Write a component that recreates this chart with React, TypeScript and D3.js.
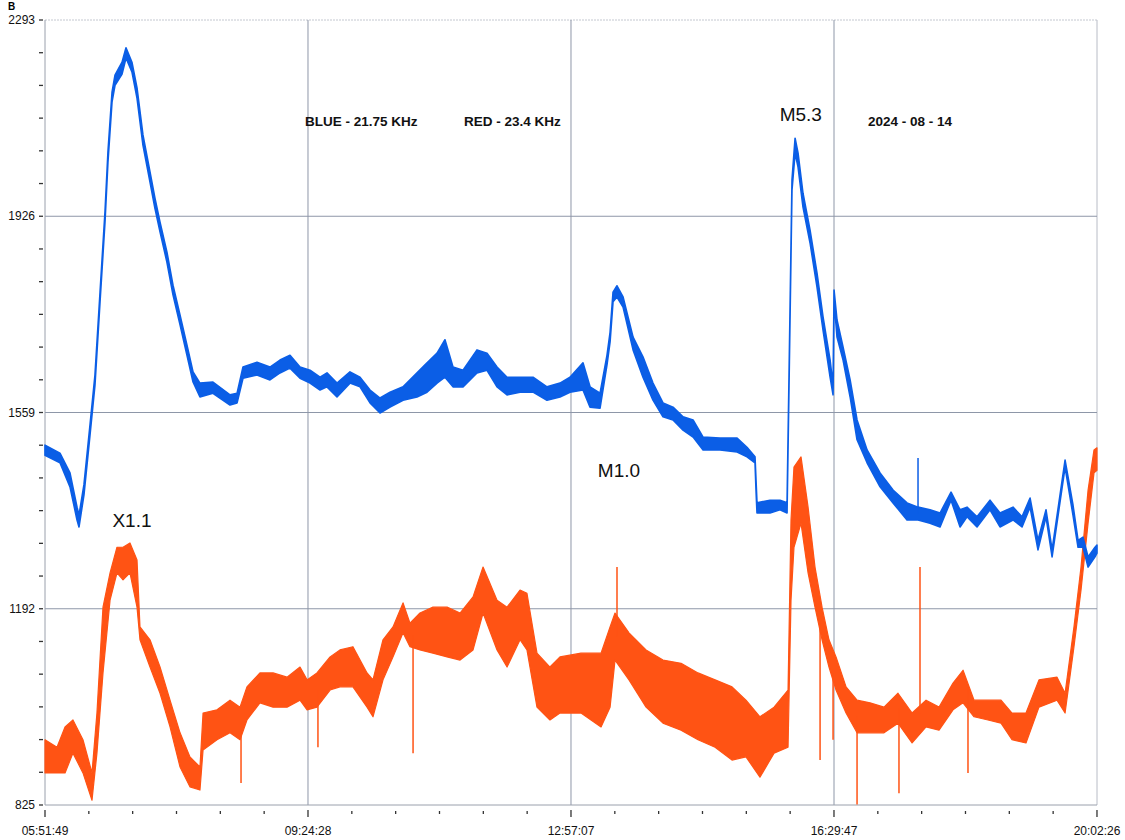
import React from "react";
import * as d3 from "d3";

// time axis: minutes after 05:51:49
const xTickLabels = ["05:51:49", "09:24:28", "12:57:07", "16:29:47", "20:02:26"];
const yTickLabels = [825, 1192, 1559, 1926, 2293];

// blue (21.75 kHz): [minute, high, low]
const blue: [number, number, number][] = [
  [0, 1498, 1479], [12.1, 1483, 1465], [20.2, 1446, 1420], [25.9, 1382, 1358],
  [27.5, 1367, 1345], [31.5, 1424, 1405], [36.4, 1536, 1517], [40.4, 1629, 1610],
  [44.5, 1784, 1766], [48.5, 1934, 1915], [50.9, 2046, 2027], [54.2, 2158, 2140],
  [56.6, 2190, 2171], [62.3, 2214, 2192], [65.5, 2241, 2222], [70.3, 2214, 2196],
  [74.4, 2166, 2147], [79.2, 2078, 2059], [84.9, 2009, 1990], [88.9, 1960, 1941],
  [93.0, 1915, 1897], [98.6, 1859, 1840], [103.5, 1797, 1779], [109.2, 1741, 1723],
  [114.8, 1685, 1666], [119.7, 1635, 1616], [125.3, 1614, 1588], [135.8, 1616, 1595],
  [149.6, 1592, 1573], [155.3, 1595, 1577], [160.1, 1644, 1623], [171.4, 1653, 1629],
  [181.9, 1644, 1620], [190.0, 1657, 1633], [198.1, 1666, 1642], [206.2, 1644, 1623],
  [214.3, 1638, 1614], [222.4, 1625, 1601], [228.0, 1633, 1607], [236.1, 1614, 1588],
  [246.6, 1635, 1614], [254.7, 1625, 1607], [262.8, 1601, 1577], [270.9, 1586, 1558],
  [279.0, 1597, 1569], [289.5, 1607, 1582], [300.8, 1633, 1588], [308.9, 1652, 1597],
  [317.0, 1670, 1614], [323.4, 1695, 1625], [329.9, 1644, 1607], [338.0, 1638, 1607],
  [349.3, 1676, 1633], [357.4, 1670, 1638], [365.5, 1644, 1607], [373.6, 1625, 1592],
  [384.1, 1625, 1597], [394.6, 1625, 1597], [405.9, 1607, 1582], [416.4, 1614, 1588],
  [424.5, 1625, 1597], [435.0, 1652, 1601], [440.7, 1607, 1569], [448.8, 1595, 1567],
  [454.4, 1666, 1648], [456.9, 1709, 1691], [459.3, 1784, 1766], [462.5, 1796, 1775],
  [467.4, 1775, 1756], [475.5, 1700, 1676], [483.5, 1663, 1625], [491.6, 1614, 1582],
  [499.7, 1577, 1551], [507.8, 1569, 1545], [515.9, 1551, 1526], [524.0, 1545, 1513],
  [532.1, 1513, 1489], [545.8, 1511, 1489], [559.6, 1511, 1485], [567.6, 1494, 1476],
  [574.1, 1476, 1465], [574.9, 1433, 1414], [575.7, 1390, 1371], [586.2, 1395, 1371],
  [594.3, 1395, 1377], [600.0, 1390, 1371], [601.6, 1629, 1610], [603.2, 1872, 1853],
  [604.0, 1994, 1975], [606.5, 2072, 2044], [608.9, 2044, 2018], [612.9, 1969, 1943],
  [618.6, 1900, 1876], [624.2, 1820, 1794], [629.1, 1738, 1713], [634.8, 1657, 1625],
  [637.2, 1610, 1592], [638.0, 1788, 1769], [640.4, 1732, 1700], [645.3, 1681, 1657],
  [651.0, 1620, 1588], [656.6, 1545, 1508], [664.7, 1489, 1465], [675.2, 1446, 1420],
  [685.7, 1414, 1390], [697.0, 1390, 1358], [705.9, 1382, 1358], [715.6, 1377, 1352],
  [723.7, 1371, 1345], [732.6, 1410, 1395], [739.9, 1377, 1345], [745.5, 1382, 1364],
  [753.6, 1364, 1345], [764.1, 1395, 1377], [772.2, 1371, 1345], [782.7, 1382, 1358],
  [790.0, 1364, 1345], [796.5, 1399, 1382], [802.9, 1320, 1302], [809.4, 1377, 1364],
  [814.3, 1302, 1289], [824.8, 1470, 1457], [831.2, 1386, 1367], [835.3, 1320, 1307],
  [839.3, 1326, 1307], [843.4, 1289, 1270], [849.0, 1307, 1289], [850.6, 1311, 1296],
];
const blueSpikes: [number, number][] = [[705.9, 1474]];

// red (23.4 kHz): [minute, high, low]
const red: [number, number, number][] = [
  [0, 947, 885], [9.7, 933, 885], [16.2, 971, 885], [22.6, 984, 922], [30.7, 947, 885],
  [38.0, 885, 834], [42.0, 997, 922], [46.9, 1195, 1072], [52.6, 1259, 1208],
  [58.2, 1307, 1259], [63.1, 1307, 1246], [68.7, 1315, 1259], [74.4, 1283, 1195],
  [76.8, 1158, 1134], [84.9, 1134, 1083], [93.0, 1083, 1034], [101.1, 1021, 971],
  [109.2, 960, 896], [117.2, 915, 859], [125.3, 896, 853], [127.8, 997, 928],
  [139.1, 1003, 947], [149.6, 1021, 960], [157.7, 1008, 947], [163.3, 1046, 984],
  [173.8, 1072, 1016], [184.4, 1072, 1008], [195.7, 1064, 1008], [206.2, 1083, 1021],
  [211.9, 1059, 1003], [219.9, 1072, 1008], [230.5, 1102, 1040], [238.5, 1115, 1046],
  [249.0, 1121, 1046], [260.4, 1072, 1008], [265.2, 1059, 990], [273.3, 1134, 1059],
  [281.4, 1158, 1102], [289.5, 1203, 1147], [295.1, 1165, 1121], [303.2, 1184, 1115],
  [313.7, 1195, 1109], [325.1, 1195, 1102], [335.6, 1184, 1096], [346.1, 1214, 1115],
  [354.2, 1270, 1184], [365.5, 1208, 1115], [373.6, 1195, 1083], [384.1, 1227, 1134],
  [389.7, 1221, 1115], [397.8, 1109, 1008], [408.3, 1083, 984], [416.4, 1102, 997],
  [433.4, 1109, 997], [449.6, 1109, 971], [456.9, 1158, 1008], [460.9, 1184, 1096],
  [472.2, 1147, 1059], [486.0, 1115, 1008], [499.7, 1096, 978], [514.3, 1090, 965],
  [528.0, 1072, 947], [541.8, 1059, 933], [555.5, 1046, 909], [566.8, 1021, 915],
  [578.1, 990, 877], [589.5, 1008, 922], [600.8, 1040, 933], [603.2, 1358, 1208],
  [605.6, 1457, 1307], [611.3, 1476, 1352], [617.0, 1382, 1259], [622.6, 1270, 1195],
  [628.3, 1195, 1134], [633.9, 1134, 1083], [639.6, 1102, 1040], [647.7, 1046, 997],
  [656.6, 1021, 960], [667.1, 1016, 960], [678.4, 1008, 960], [689.7, 1034, 978],
  [701.1, 997, 941], [712.4, 1021, 971], [722.9, 1008, 965], [734.2, 1053, 1003],
  [742.3, 1077, 1016], [751.2, 1021, 990], [762.5, 1021, 984], [773.0, 1021, 978],
  [781.9, 997, 947], [793.2, 997, 941], [803.7, 1059, 1008], [818.3, 1064, 1021],
  [824.8, 1034, 997], [832.0, 1158, 1121], [837.7, 1270, 1227], [843.4, 1414, 1352],
  [848.2, 1489, 1446], [850.6, 1493, 1451],
];
const redSpikes: [number, number][] = [
  [158.5, 866], [220.7, 933], [297.6, 922], [462.5, 1270], [626.7, 909],
  [637.2, 947], [656.6, 826], [690.5, 847], [707.5, 1270], [746.3, 885],
];

const notes = [
  { text: "X1.1", m: 54.5, v: 1345 },
  { text: "M1.0", m: 447, v: 1438 },
  { text: "M5.3", m: 594, v: 2104 },
];

const toMin = (s: string) => {
  const [h, mi, se] = s.split(":").map(Number);
  return h * 60 + mi + se / 60;
};

const W = 1125, H = 840;
const left = 45, right = 1097, top = 20, bottom = 805;
const BLUE = "#0b5ee6";
const RED = "#ff5314";
const GRID = "#8e97a8";
const font = "'Liberation Sans', Arial, sans-serif";

export default function App() {
  const t0 = toMin(xTickLabels[0]);
  const xMajors = xTickLabels.map(s => toMin(s) - t0);
  const x = d3.scaleLinear().domain([0, xMajors[xMajors.length - 1]]).range([left, right]);
  const y = d3.scaleLinear().domain([yTickLabels[0], yTickLabels[yTickLabels.length - 1]]).range([bottom, top]);

  const area = d3.area<[number, number, number]>()
    .x(d => x(d[0]))
    .y0(d => y(d[2]))
    .y1(d => y(d[1]));

  const xStep = (xMajors[1] - xMajors[0]) / 6;
  const xMinor = d3.range(0, xMajors[xMajors.length - 1] + 0.01, xStep);
  const yStep = (yTickLabels[1] - yTickLabels[0]) / 6;
  const yMinor = d3.range(yTickLabels[0], yTickLabels[yTickLabels.length - 1] + 0.01, yStep);

  const bis = d3.bisector((d: [number, number, number]) => d[0]).center;
  const spikeBase = (series: [number, number, number][], m: number) => {
    const p = series[bis(series, m)];
    return (p[1] + p[2]) / 2;
  };

  return (
    <svg width={W} height={H} style={{ display: "block", position: "absolute", left: 0, top: 0, background: "#fff" }}>
      <rect width={W} height={H} fill="#fff" />
      <text x={8} y={10} fontFamily={font} fontWeight="bold" fontSize={10}>B</text>

      {/* frame + grid */}
      <line x1={left} x2={right} y1={top} y2={top} stroke="#c4c8d0" strokeWidth={1} strokeDasharray="2 1" />
      <line x1={right} x2={right} y1={top} y2={bottom} stroke="#b8bcc6" strokeWidth={1} />
      {yTickLabels.slice(1, -1).map(v => (
        <line key={v} x1={left} x2={right} y1={y(v)} y2={y(v)} stroke={GRID} strokeWidth={1} />
      ))}
      {xMajors.slice(1, -1).map(m => (
        <line key={m} x1={x(m)} x2={x(m)} y1={top} y2={bottom} stroke={GRID} strokeWidth={1} />
      ))}
      <line x1={left} x2={left} y1={top} y2={bottom} stroke="#9aa0ac" strokeWidth={1} />
      <line x1={left} x2={right} y1={bottom} y2={bottom} stroke="#9aa0ac" strokeWidth={1} />

      {/* y ticks */}
      {yMinor.map((v, i) => (
        <line key={i} x1={39} x2={43} y1={y(v)} y2={y(v)} stroke="#333" strokeWidth={1.3} />
      ))}
      {yTickLabels.map(v => (
        <text key={v} x={35} y={y(v)} dy="0.35em" textAnchor="end" fontFamily={font} fontSize={12} fill="#111">{v}</text>
      ))}

      {/* x ticks */}
      {xMinor.map((m, i) => {
        const major = i % 6 === 0;
        return (
          <line key={i} x1={x(m)} x2={x(m)} y1={major ? 810 : 811} y2={major ? 817 : 814} stroke="#333" strokeWidth={1.3} />
        );
      })}
      {xTickLabels.map((s, i) => (
        <text key={s} x={x(xMajors[i])} y={835} textAnchor="middle" fontFamily={font} fontSize={12} fill="#111">{s}</text>
      ))}

      {/* series */}
      <path d={area(red) ?? ""} fill={RED} stroke={RED} strokeWidth={1.2} strokeLinejoin="round" />
      {redSpikes.map(([m, v], i) => (
        <line key={i} x1={x(m)} x2={x(m)} y1={y(spikeBase(red, m))} y2={y(v)} stroke={RED} strokeWidth={1.5} />
      ))}
      <path d={area(blue) ?? ""} fill={BLUE} stroke={BLUE} strokeWidth={1.6} strokeLinejoin="round" />
      {blueSpikes.map(([m, v], i) => (
        <line key={i} x1={x(m)} x2={x(m)} y1={y(spikeBase(blue, m))} y2={y(v)} stroke={BLUE} strokeWidth={1.5} />
      ))}

      {/* labels */}
      <text x={305} y={126} fontFamily={font} fontWeight="bold" fontSize={13.5} fill="#111">BLUE - 21.75 KHz</text>
      <text x={464} y={126} fontFamily={font} fontWeight="bold" fontSize={13.5} fill="#111">RED - 23.4 KHz</text>
      <text x={868} y={126} fontFamily={font} fontWeight="bold" fontSize={13.5} fill="#111">2024 - 08 - 14</text>
      {notes.map(n => (
        <text key={n.text} x={x(n.m)} y={y(n.v)} fontFamily={font} fontSize={19} fill="#111">{n.text}</text>
      ))}
    </svg>
  );
}
